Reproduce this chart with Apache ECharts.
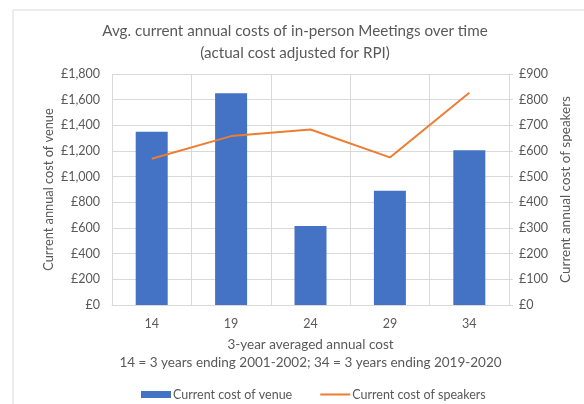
<!DOCTYPE html>
<html>
<head>
<meta charset="utf-8">
<script src="https://cdn.jsdelivr.net/npm/echarts@6/dist/echarts.min.js"></script>
<style>
  html, body { margin: 0; padding: 0; background: #fff; }
  #chart { width: 584px; height: 404px; }
</style>
</head>
<body>
<div id="chart"></div>
<script>
// data
const periods = ['14', '19', '24', '29', '34'];
const venueCost = [1350, 1650, 615, 890, 1205];
const speakerCost = [570, 658, 684, 575, 827];

const font = 'Lato, "Open Sans", sans-serif';
const grey = '#595959';

function pounds(v) {
  return '£' + v.toLocaleString('en-GB');
}

const chart = echarts.init(document.getElementById('chart'));

chart.setOption({
  animation: false,
  textStyle: { fontFamily: font },
  graphic: [{
    type: 'rect',
    shape: { x: 13, y: 10, width: 600, height: 420 },
    style: { fill: 'none', stroke: '#d9d9d9', lineWidth: 1 },
    silent: true
  }],
  title: {
    text: 'Avg. current annual costs of in-person Meetings over time\n(actual cost adjusted for RPI)',
    left: 290,
    textAlign: 'center',
    top: 15,
    textStyle: { fontFamily: font, fontSize: 15.2, fontWeight: 'normal', color: grey, lineHeight: 22 }
  },
  legend: {
    left: 136,
    top: 383,
    itemWidth: 30,
    itemHeight: 7,
    itemGap: 28,
    textStyle: { fontFamily: font, fontSize: 12.5, color: grey, padding: [0, 0, 0, -3] },
    data: [
      { name: 'Current cost of venue', icon: 'rect' },
      { name: 'Current cost of speakers', icon: 'path://M0,0 L30,0 L30,2 L0,2 Z' }
    ]
  },
  grid: { left: 112, right: 75, top: 74, bottom: 99 },
  xAxis: {
    type: 'category',
    data: periods,
    name: '3-year averaged annual cost\n14 = 3 years ending 2001-2002; 34 = 3 years ending 2019-2020',
    nameLocation: 'middle',
    nameGap: 31,
    nameTextStyle: { fontFamily: font, fontSize: 13.5, color: grey, lineHeight: 18, verticalAlign: 'top' },
    axisLine: { lineStyle: { color: '#d9d9d9' } },
    axisTick: { show: false },
    axisLabel: { color: grey, fontSize: 12.5, margin: 12 },
    splitLine: { show: true, lineStyle: { color: '#d9d9d9' } }
  },
  yAxis: [{
    type: 'value',
    min: 0,
    max: 1800,
    interval: 200,
    name: 'Current annual cost of venue',
    nameLocation: 'middle',
    nameRotate: 90,
    nameGap: 57,
    nameMoveOverlap: false,
    nameTextStyle: { fontFamily: font, fontSize: 12.8, color: grey },
    axisLine: { show: false },
    axisTick: { show: false },
    axisLabel: { color: grey, fontSize: 12.5, margin: 12, formatter: pounds },
    splitLine: { lineStyle: { color: '#d9d9d9' } }
  }, {
    type: 'value',
    min: 0,
    max: 900,
    interval: 100,
    position: 'right',
    name: 'Current annual cost of speakers',
    nameLocation: 'middle',
    nameRotate: 90,
    nameGap: 50,
    nameTextStyle: { fontFamily: font, fontSize: 13.5, color: grey },
    axisLine: { show: true, lineStyle: { color: '#d9d9d9' } },
    axisTick: { show: true, length: 4, lineStyle: { color: '#d9d9d9' } },
    axisLabel: { color: grey, fontSize: 12.5, margin: 10, formatter: pounds },
    splitLine: { show: false }
  }],
  series: [{
    name: 'Current cost of venue',
    type: 'bar',
    data: venueCost,
    barWidth: 32,
    itemStyle: { color: '#4472c4' }
  }, {
    name: 'Current cost of speakers',
    type: 'line',
    yAxisIndex: 1,
    data: speakerCost,
    showSymbol: false,
    symbol: 'none',
    lineStyle: { color: '#ed7d31', width: 2 },
    itemStyle: { color: '#ed7d31' }
  }]
});
</script>
</body>
</html>
